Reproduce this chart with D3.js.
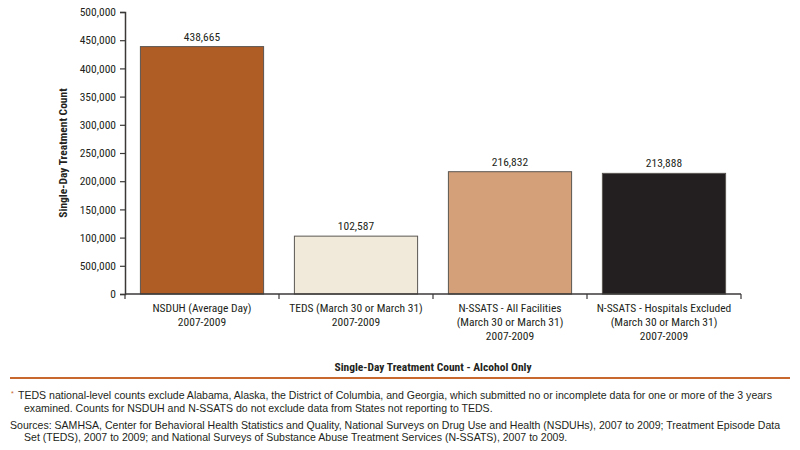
<!DOCTYPE html>
<html>
<head>
<meta charset="utf-8">
<script src="https://cdn.jsdelivr.net/npm/d3@7"></script>
<style>
  body { margin: 0; background: #fff; }
  text { font-family: "Liberation Sans Narrow", "Roboto Condensed", Arial, sans-serif; fill: #231f20; }
  .note { font-family: "Liberation Sans", Arial, sans-serif; font-size: 10.55px; }
</style>
</head>
<body>
<script>
// chart data
var categories = [
  ["NSDUH (Average Day)", "2007-2009"],
  ["TEDS (March 30 or March 31)", "2007-2009"],
  ["N-SSATS - All Facilities", "(March 30 or March 31)", "2007-2009"],
  ["N-SSATS - Hospitals Excluded", "(March 30 or March 31)", "2007-2009"]
];
var values = [438665, 102587, 216832, 213888];
var barColors = ["#b05c25", "#f1eada", "#d4a07a", "#231f20"];
var tickValues = [0, 50000, 100000, 150000, 200000, 250000, 300000, 350000, 400000, 450000, 500000];
// tick labels as printed (the second one reads 500,000 in the original)
var tickLabels = ["0", "500,000", "100,000", "150,000", "200,000", "250,000", "300,000", "350,000", "400,000", "450,000", "500,000"];

window.onload = function () {
  var w = 800, h = 450;
  var svg = d3.select("body").append("svg")
    .attr("width", w)
    .attr("height", h);

  var left = 125, right = 741, top = 12, bottom = 294;

  var x = d3.scaleBand()
    .domain(d3.range(values.length))
    .range([left, right])
    .paddingInner(0.2)
    .paddingOuter(0.1);

  var y = d3.scaleLinear()
    .domain([0, 500000])
    .range([bottom, top]);

  var fmt = d3.format(",");

  // bars
  svg.selectAll(".bar")
    .data(values)
    .enter()
    .append("rect")
    .attr("class", "bar")
    .attr("x", function (d, i) { return x(i); })
    .attr("y", function (d) { return y(d); })
    .attr("width", x.bandwidth())
    .attr("height", function (d) { return bottom - y(d); })
    .style("fill", function (d, i) { return barColors[i]; })
    .style("stroke", "#5a5652")
    .style("stroke-width", 1);

  // value labels
  svg.selectAll(".val")
    .data(values)
    .enter()
    .append("text")
    .attr("class", "val")
    .attr("text-anchor", "middle")
    .attr("x", function (d, i) { return x(i) + x.bandwidth() / 2; })
    .attr("y", function (d) { return y(d) - 6; })
    .style("font-size", "11.5px")
    .text(function (d) { return fmt(d); });

  // y axis
  var yAxis = d3.axisLeft(y)
    .tickValues(tickValues)
    .tickSize(5)
    .tickPadding(4)
    .tickFormat(function (d, i) { return tickLabels[i]; });

  var gy = svg.append("g")
    .attr("transform", "translate(" + left + ",0)")
    .call(yAxis);
  gy.select(".domain").attr("stroke", "#3b3838").attr("stroke-width", 1.5);
  gy.selectAll(".tick line").attr("stroke", "#3b3838").attr("stroke-width", 1.2);
  gy.selectAll(".tick text").style("font-size", "11.5px").attr("fill", "#231f20");

  // x axis with ticks at band boundaries
  var boundaries = d3.range(values.length + 1).map(function (i) {
    return left + i * x.step();
  });
  svg.append("line")
    .attr("x1", left).attr("x2", right)
    .attr("y1", bottom).attr("y2", bottom)
    .attr("stroke", "#3b3838").attr("stroke-width", 1.5);
  svg.selectAll(".xtick")
    .data(boundaries)
    .enter()
    .append("line")
    .attr("class", "xtick")
    .attr("x1", function (d) { return d; })
    .attr("x2", function (d) { return d; })
    .attr("y1", bottom)
    .attr("y2", bottom + 5)
    .attr("stroke", "#3b3838").attr("stroke-width", 1.2);

  // category labels
  var cat = svg.selectAll(".cat")
    .data(categories)
    .enter()
    .append("text")
    .attr("class", "cat")
    .attr("text-anchor", "middle")
    .attr("y", 312)
    .style("font-size", "11.5px");
  cat.each(function (d, i) {
    var t = d3.select(this);
    d.forEach(function (line, j) {
      t.append("tspan")
        .attr("x", x(i) + x.bandwidth() / 2)
        .attr("dy", j === 0 ? 0 : 14)
        .text(line);
    });
  });

  // axis titles
  svg.append("text")
    .attr("text-anchor", "middle")
    .attr("transform", "translate(67,153) rotate(-90)")
    .style("font-size", "11.5px")
    .style("font-weight", "bold")
    .text("Single-Day Treatment Count");

  svg.append("text")
    .attr("text-anchor", "middle")
    .attr("x", 433)
    .attr("y", 371)
    .style("font-size", "11.5px")
    .style("font-weight", "bold")
    .text("Single-Day Treatment Count - Alcohol Only");

  // rule
  svg.append("line")
    .attr("x1", 10).attr("x2", 790)
    .attr("y1", 378).attr("y2", 378)
    .attr("stroke", "#c9682e").attr("stroke-width", 2);

  // footnotes
  var notes = svg.append("g");
  notes.append("text")
    .attr("class", "note")
    .attr("x", 11).attr("y", 396)
    .style("font-size", "7px")
    .style("fill", "#c9682e")
    .text("*");
  notes.append("text").attr("class", "note").attr("x", 18).attr("y", 399)
    .text("TEDS national-level counts exclude Alabama, Alaska, the District of Columbia, and Georgia, which submitted no or incomplete data for one or more of the 3 years");
  notes.append("text").attr("class", "note").attr("x", 24).attr("y", 412)
    .text("examined. Counts for NSDUH and N-SSATS do not exclude data from States not reporting to TEDS.");
  notes.append("text").attr("class", "note").attr("x", 10).attr("y", 429)
    .text("Sources: SAMHSA, Center for Behavioral Health Statistics and Quality, National Surveys on Drug Use and Health (NSDUHs), 2007 to 2009; Treatment Episode Data");
  notes.append("text").attr("class", "note").attr("x", 24).attr("y", 441)
    .text("Set (TEDS), 2007 to 2009; and National Surveys of Substance Abuse Treatment Services (N-SSATS), 2007 to 2009.");
};
</script>
</body>
</html>
